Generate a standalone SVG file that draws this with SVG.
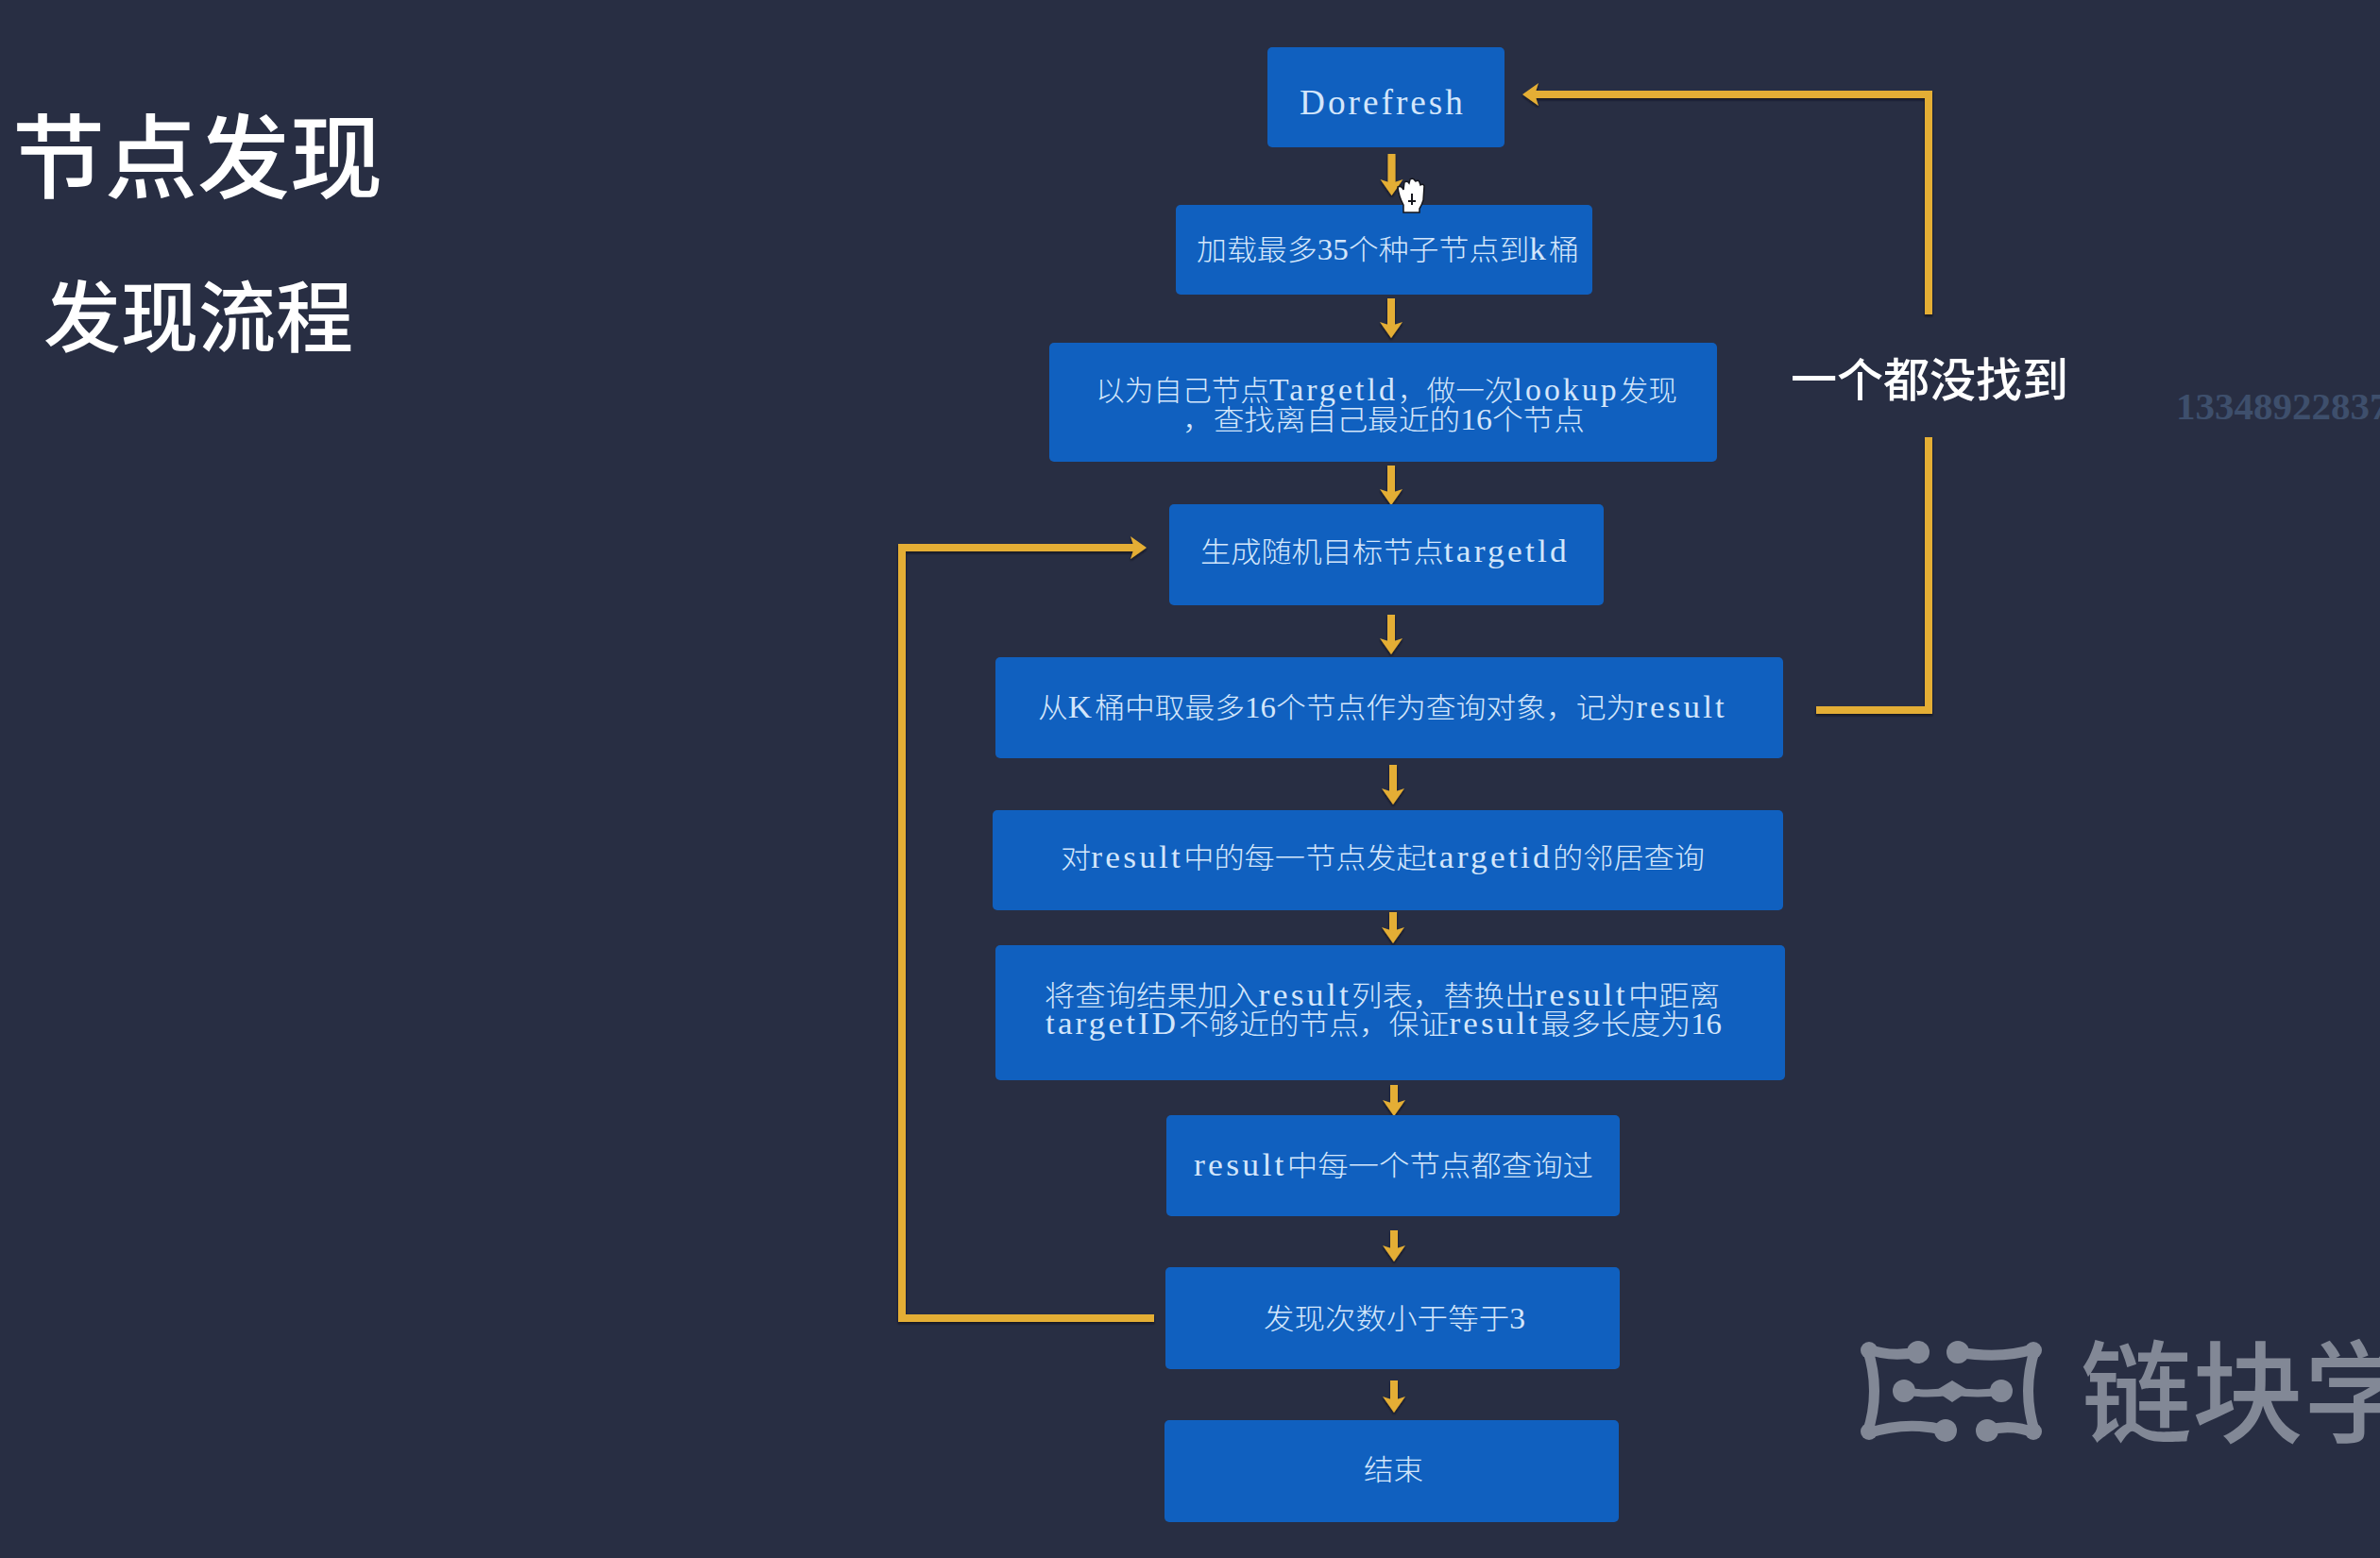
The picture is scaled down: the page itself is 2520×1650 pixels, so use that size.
<svg xmlns="http://www.w3.org/2000/svg" width="2520" height="1650" viewBox="0 0 2520 1650">
<style>
.n{fill:#1060bf}
.t{font-family:"Noto Sans CJK SC",sans-serif;font-size:30px;fill:#d3e6fb;font-weight:300}
.m{font-family:"Liberation Serif","Noto Sans CJK SC",serif;font-size:33px;letter-spacing:3px}
.d{font-family:"Liberation Serif","Noto Sans CJK SC",serif;font-size:31px}
.h{font-family:"Noto Sans CJK SC",sans-serif;fill:#fff;font-weight:500}
.c{fill:none;stroke:#e4ae34;stroke-width:8}
.v{marker-end:url(#a)}
.lg{fill:none;stroke:#828896;stroke-width:11;stroke-linecap:round;stroke-linejoin:round}
.ld{fill:#828896}
</style>
<defs>
<marker id="a" markerUnits="userSpaceOnUse" markerWidth="20" markerHeight="26" refX="5" refY="12" orient="auto">
<path d="M0,0 L17,12 L0,24 L4,12 Z" fill="#e4ae34"/>
</marker>
<filter id="s" x="-5%" y="-5%" width="110%" height="110%"><feDropShadow dx="0" dy="2" stdDeviation="0.8" flood-color="#0e0f16" flood-opacity="0.8"/></filter>
<filter id="b"><feGaussianBlur stdDeviation="0.5"/></filter>
</defs>
<rect width="2520" height="1650" fill="#282e43"/>

<g id="title" filter="url(#b)">
<text class="h" x="13" y="202" font-size="97" textLength="392" lengthAdjust="spacingAndGlyphs">节点发现</text>
<text class="h" x="46" y="366" font-size="82" textLength="328" lengthAdjust="spacingAndGlyphs">发现流程</text>
</g>

<g id="phone-watermark">
<text x="2304" y="444" font-family="Liberation Serif,serif" font-weight="700" font-size="41" fill="#3e4f6c">13348922837</text>
</g>

<g id="logo-watermark">
<path class="lg" d="M2031,1432 Q2000,1438 1977,1428 Q1992,1473 1977,1518 Q2020,1504 2060,1515"/>
<path class="lg" d="M2073,1432 Q2120,1440 2155,1428 Q2140,1473 2155,1518 Q2130,1507 2104,1515"/>
<path class="lg" style="stroke-width:8" d="M2016,1473 Q2040,1478 2067,1473 Q2095,1478 2119,1473"/>
<circle class="ld" cx="2031" cy="1432" r="12"/><circle class="ld" cx="2060" cy="1515" r="12"/>
<circle class="ld" cx="2073" cy="1432" r="12"/><circle class="ld" cx="2104" cy="1515" r="12"/>
<circle class="ld" cx="2016" cy="1473" r="12"/><circle class="ld" cx="2119" cy="1473" r="12"/>
<circle class="ld" cx="1979" cy="1430" r="9"/><circle class="ld" cx="2153" cy="1430" r="9"/>
<circle class="ld" cx="1979" cy="1516" r="9"/><circle class="ld" cx="2153" cy="1516" r="9"/>
<path class="ld" d="M2049,1473 L2067,1462 L2085,1473 L2067,1485 Z"/>
<text x="2203" y="1519" font-family="Noto Sans CJK SC,sans-serif" font-weight="500" font-size="118" fill="#828896">链块学</text>
</g>

<g id="connectors" filter="url(#s)">
<path class="c v" d="M1473.5,163 V195"/>
<path class="c v" d="M1473,316 V346"/>
<path class="c v" d="M1473,493 V523"/>
<path class="c v" d="M1473,651 V681"/>
<path class="c v" d="M1475,810 V840"/>
<path class="c v" d="M1475,966 V987"/>
<path class="c v" d="M1476,1149 V1170"/>
<path class="c v" d="M1476,1303 V1324"/>
<path class="c v" d="M1476,1462 V1484"/>
<path class="c" d="M1923,752 H2042 V463"/>
<path class="c v" d="M2042,333 V100 H1624"/>
<path class="c v" d="M1222,1396 H955 V580 H1202"/>
</g>

<g id="label-none-found" filter="url(#b)">
<text class="h" x="1896" y="420" font-size="48.5" textLength="294" lengthAdjust="spacingAndGlyphs">一个都没找到</text>
</g>

<g id="n1"><rect class="n" x="1342" y="50" width="251" height="106" rx="5"/>
<text class="t" x="1376" y="121" textLength="176" lengthAdjust="spacingAndGlyphs"><tspan class="m" style="font-size:37px">Dorefresh</tspan></text></g>
<g id="n2"><rect class="n" x="1245" y="217" width="441" height="95" rx="5"/>
<text class="t" x="1267" y="275" textLength="405" lengthAdjust="spacingAndGlyphs">加载最多<tspan class="d">35</tspan>个种子节点到<tspan class="m">k</tspan>桶</text></g>
<g id="n3"><rect class="n" x="1111" y="363" width="707" height="126" rx="5"/>
<text class="t" x="1160" y="424" textLength="616" lengthAdjust="spacingAndGlyphs">以为自己节点<tspan class="m">Targetld</tspan>，做一次<tspan class="m">lookup</tspan>发现</text>
<text class="t" x="1252" y="455" textLength="426" lengthAdjust="spacingAndGlyphs">，查找离自己最近的<tspan class="d">16</tspan>个节点</text></g>
<g id="n4"><rect class="n" x="1238" y="534" width="460" height="107" rx="5"/>
<text class="t" x="1271" y="595" textLength="391" lengthAdjust="spacingAndGlyphs">生成随机目标节点<tspan class="m">targetld</tspan></text></g>
<g id="n5"><rect class="n" x="1054" y="696" width="834" height="107" rx="5"/>
<text class="t" x="1099" y="760" textLength="730" lengthAdjust="spacingAndGlyphs">从<tspan class="m">K</tspan>桶中取最多<tspan class="d">16</tspan>个节点作为查询对象，记为<tspan class="m">result</tspan></text></g>
<g id="n6"><rect class="n" x="1051" y="858" width="837" height="106" rx="5"/>
<text class="t" x="1123" y="919" textLength="682" lengthAdjust="spacingAndGlyphs">对<tspan class="m">result</tspan>中的每一节点发起<tspan class="m">targetid</tspan>的邻居查询</text></g>
<g id="n7"><rect class="n" x="1054" y="1001" width="836" height="143" rx="5"/>
<text class="t" x="1106" y="1065" textLength="715" lengthAdjust="spacingAndGlyphs">将查询结果加入<tspan class="m">result</tspan>列表，替换出<tspan class="m">result</tspan>中距离</text>
<text class="t" x="1107" y="1095" textLength="716" lengthAdjust="spacingAndGlyphs"><tspan class="m">targetID</tspan>不够近的节点，保证<tspan class="m">result</tspan>最多长度为<tspan class="d">16</tspan></text></g>
<g id="n8"><rect class="n" x="1235" y="1181" width="480" height="107" rx="5"/>
<text class="t" x="1264" y="1245" textLength="423" lengthAdjust="spacingAndGlyphs"><tspan class="m">result</tspan>中每一个节点都查询过</text></g>
<g id="n9"><rect class="n" x="1234" y="1342" width="481" height="108" rx="5"/>
<text class="t" x="1338" y="1407" textLength="277" lengthAdjust="spacingAndGlyphs">发现次数小于等于<tspan class="d">3</tspan></text></g>
<g id="n10"><rect class="n" x="1233" y="1504" width="481" height="108" rx="5"/>
<text class="t" x="1444" y="1567" textLength="63" lengthAdjust="spacingAndGlyphs">结束</text></g>

<g id="cursor">
<path d="M1486,225 L1486,217 Q1481,208 1480,198 Q1484,196 1486,201 L1487,193 Q1490,191 1492,194 L1493,190 Q1496,188 1498,191 L1499,192 Q1502,190 1503,193 L1504,196 Q1507,194 1508,197 L1507,212 Q1505,218 1503,221 L1503,225 Z" fill="#fff" stroke="#15161d" stroke-width="1.5"/>
<path d="M1495,205 V217 M1491,213 H1499" stroke="#15161d" stroke-width="2" fill="none"/>
</g>
</svg>
